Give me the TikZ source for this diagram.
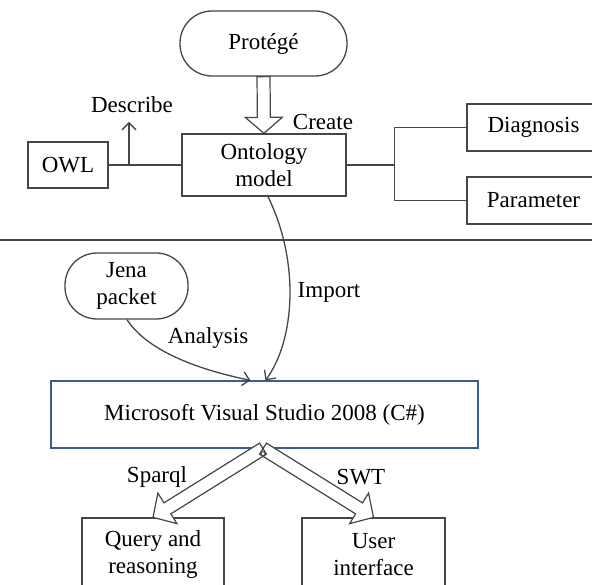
\documentclass[tikz,border=0pt]{standalone}
\usepackage{fontspec}
\setmainfont{Liberation Serif}
\usetikzlibrary{calc,arrows.meta}
\definecolor{ln}{RGB}{70,70,70}
\definecolor{vsblue}{RGB}{60,92,150}
\newcommand\hollowarr[6]{%
  \path ($(#3)!#6!(#2)$) coordinate (hb);
  \path[#1] ($(#2)!#4!90:(#3)$) -- ($(hb)!#4!-90:(#2)$) -- ($(hb)!#5!-90:(#2)$) -- (#3)
    -- ($(hb)!#5!90:(#2)$) -- ($(hb)!#4!90:(#2)$) -- ($(#2)!#4!-90:(#3)$) -- cycle;}
\begin{document}
\begin{tikzpicture}[x=1pt,y=-1pt,
  font=\fontsize{23}{27}\selectfont,
  box/.style={draw=ln, line width=1.3pt, fill=white, align=center, inner sep=0pt},
  capsule/.style={box, rounded corners=32pt},
  lab/.style={inner sep=0pt},
  con/.style={draw=ln, line width=1.3pt},
  tip/.style={-{Straight Barb[length=7pt,width=14pt]}},
  holdraw/.style={draw=ln, line width=1.2pt},
  holfill/.style={fill=white}]
\useasboundingbox (0,0) rectangle (592,585);
\clip (0,0) rectangle (592,585);

% separator
\coordinate (sepL) at (0,240);
\coordinate (sepR) at (592,240);
\draw[con] (sepL) -- (sepR);

% upper part
\node[capsule, minimum width=167pt, minimum height=65pt] (prot) at (263.5,43.5) {Protégé};
\node[box, minimum width=164pt, minimum height=62pt] (onto) at (264,165) {Ontology\\model};
\node[box, minimum width=80pt, minimum height=46pt] (owl) at (68,165) {OWL};
\node[box, minimum width=133pt, minimum height=47pt] (diag) at (533.5,127.5) {Diagnosis};
\node[box, minimum width=133pt, minimum height=47pt] (param) at (533.5,200.5) {Parameter};

\draw[con] (owl.east) -- (onto.west);
\coordinate (dbase) at (129,165);
\coordinate (dtip) at (129,122);
\draw[con,tip] (dbase) -- (dtip);
\node[lab] (describe) at (132,105) {Describe};

\draw[con] (onto.east) -- ++(48,0) coordinate (br);
\draw[con] (diag.west) -| (br) |- (param.west);

\hollowarr{holfill}{prot.south}{onto.north}{6.5pt}{18.5pt}{16pt}
\hollowarr{holdraw}{prot.south}{onto.north}{6.5pt}{18.5pt}{16pt}
\node[lab] (create) at (323,122) {Create};

% lower part
\node[capsule, minimum width=123pt, minimum height=66pt] (jena) at (126.5,286) {Jena\\packet};
\node[box, draw=vsblue, minimum width=427pt, minimum height=67pt] (vs) at (264.5,414.5) {Microsoft Visual Studio 2008 (C\#)};

\draw[con,tip] ([xshift=4pt]onto.south) .. controls (300,262) and (295,340) .. ([xshift=1pt]vs.north);
\draw[con,tip] ([xshift=0.5pt]jena.south) .. controls (150,355) and (210,372) .. ([xshift=-14pt]vs.north);
\node[lab] (import) at (329,292) {Import};
\node[lab] (analysis) at (208,338) {Analysis};

\node[box, minimum width=142pt, minimum height=74pt] (query) at (153,555) {Query and\\reasoning};
\node[box, minimum width=143pt, minimum height=74pt] (user) at (373.5,555) {User\\interface};

\coordinate (fork) at ([xshift=-1.5pt]vs.south);
\hollowarr{holfill}{fork}{query.north}{6.5pt}{18pt}{17pt}
\hollowarr{holfill}{fork}{user.north}{6.5pt}{18pt}{17pt}
\hollowarr{holdraw}{fork}{query.north}{6.5pt}{18pt}{17pt}
\hollowarr{holdraw}{fork}{user.north}{6.5pt}{18pt}{17pt}
\node[circle, draw=ln, line width=0.9pt, fill=white, inner sep=0pt, minimum size=4pt] (knot) at ([yshift=-5pt]fork) {};
\node[lab] (sparql) at (157,477) {Sparql};
\node[lab] (swt) at (361,477) {SWT};
\end{tikzpicture}
\end{document}
